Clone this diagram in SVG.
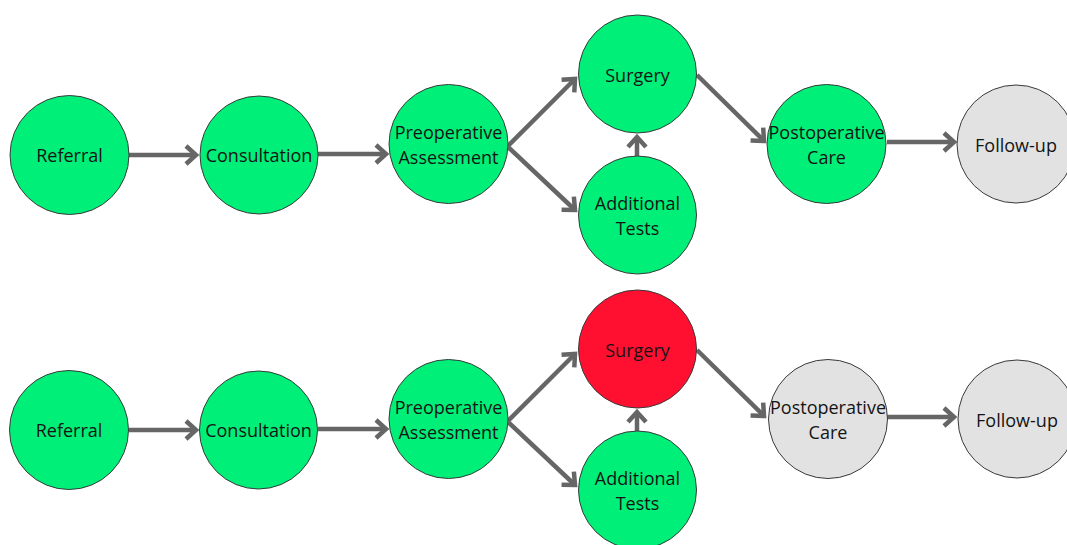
<svg xmlns="http://www.w3.org/2000/svg" width="1067" height="545" viewBox="0 0 1067 545">
  <style>
    .node circle { stroke: #3a3a3a; stroke-width: 1; }
    .done { fill: #00ef78; }
    .fail { fill: #ff1030; }
    .todo { fill: #e2e2e2; }
    .node text { font-family: "Open Sans", "Noto Sans", "Liberation Sans", sans-serif; font-size: 18px; fill: #141414; text-anchor: middle; dominant-baseline: central; }
    .edges line { stroke: #666666; stroke-width: 4.5; marker-end: url(#chev); }
  </style>
  <defs>
    <marker id="chev" markerUnits="userSpaceOnUse" viewBox="-14 -12 18 24" refX="0" refY="0" markerWidth="18" markerHeight="24" orient="auto" overflow="visible">
      <path d="M-10,-9 L0,0 L-10,9" fill="none" stroke="#666666" stroke-width="4.5" stroke-linejoin="miter" stroke-linecap="butt"/>
    </marker>
  </defs>
  <rect width="1067" height="545" fill="#ffffff"/>

  <!-- connectors -->
  <g class="edges">
    <!-- upper flow -->
    <line x1="129" y1="155" x2="196" y2="155"/>
    <line x1="318" y1="154" x2="386" y2="154"/>
    <line x1="508" y1="146" x2="575" y2="79"/>
    <line x1="508" y1="147" x2="575" y2="210"/>
    <line x1="637" y1="156" x2="637" y2="137"/>
    <line x1="697" y1="75" x2="764" y2="141"/>
    <line x1="887" y1="142" x2="954" y2="142"/>
    <!-- lower flow -->
    <line x1="129" y1="430" x2="196" y2="430"/>
    <line x1="318" y1="429" x2="386" y2="429"/>
    <line x1="508" y1="421" x2="575" y2="354"/>
    <line x1="508" y1="422" x2="575" y2="485"/>
    <line x1="637" y1="431" x2="637" y2="412"/>
    <line x1="697" y1="350" x2="764" y2="416"/>
    <line x1="887" y1="417" x2="954" y2="417"/>
  </g>

  <!-- upper flow nodes -->
  <g id="referral-1" class="node"><circle class="done" cx="69.5" cy="155" r="59.5"/><text x="69.5" y="155">Referral</text></g>
  <g id="consultation-1" class="node"><circle class="done" cx="259" cy="155" r="59"/><text x="259" y="155">Consultation</text></g>
  <g id="preop-1" class="node"><circle class="done" cx="448.5" cy="144" r="59.5"/><text x="448.5" y="132">Preoperative</text><text x="448.5" y="157">Assessment</text></g>
  <g id="surgery-1" class="node"><circle class="done" cx="637.5" cy="74" r="59"/><text x="637.5" y="75">Surgery</text></g>
  <g id="tests-1" class="node"><circle class="done" cx="637.5" cy="215" r="59"/><text x="637.5" y="203">Additional</text><text x="637.5" y="228">Tests</text></g>
  <g id="postop-1" class="node"><circle class="done" cx="826.5" cy="144" r="59.5"/><text x="826.5" y="132">Postoperative</text><text x="826.5" y="157">Care</text></g>
  <g id="followup-1" class="node"><circle class="todo" cx="1016" cy="144" r="59"/><text x="1016" y="145">Follow-up</text></g>

  <!-- lower flow nodes -->
  <g id="referral-2" class="node"><circle class="done" cx="69" cy="430" r="59.5"/><text x="69" y="430">Referral</text></g>
  <g id="consultation-2" class="node"><circle class="done" cx="258.5" cy="430" r="59"/><text x="258.5" y="430">Consultation</text></g>
  <g id="preop-2" class="node"><circle class="done" cx="448.5" cy="419" r="59.5"/><text x="448.5" y="407">Preoperative</text><text x="448.5" y="432">Assessment</text></g>
  <g id="surgery-2" class="node"><circle class="fail" cx="637.5" cy="349" r="59"/><text x="637.5" y="350">Surgery</text></g>
  <g id="tests-2" class="node"><circle class="done" cx="637.5" cy="490" r="59"/><text x="637.5" y="478">Additional</text><text x="637.5" y="503">Tests</text></g>
  <g id="postop-2" class="node"><circle class="todo" cx="828" cy="419" r="59.5"/><text x="828" y="407">Postoperative</text><text x="828" y="432">Care</text></g>
  <g id="followup-2" class="node"><circle class="todo" cx="1017" cy="419" r="59"/><text x="1017" y="420">Follow-up</text></g>
</svg>
